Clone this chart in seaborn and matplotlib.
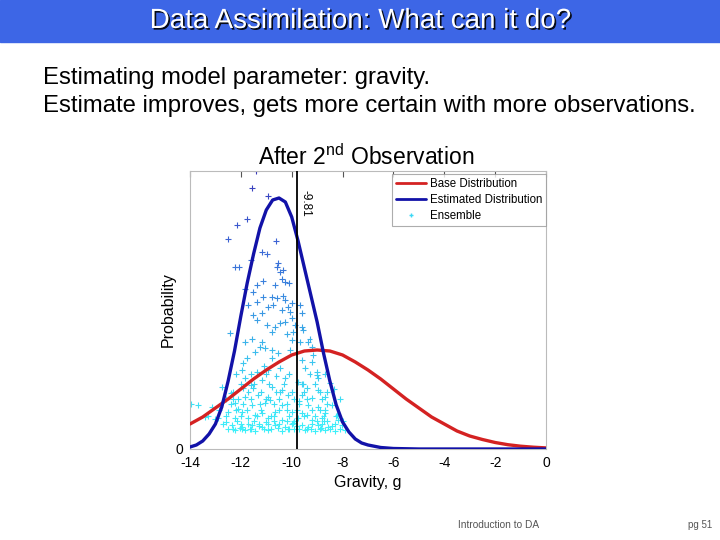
import numpy as np
import pandas as pd
import matplotlib
matplotlib.use('Agg')
import matplotlib.pyplot as plt
import matplotlib.patheffects as pe
from matplotlib.colors import LinearSegmentedColormap
from matplotlib.lines import Line2D
import seaborn as sns

sns.set_style('white')
plt.rcParams['font.family'] = ['Liberation Sans', 'DejaVu Sans']
plt.rcParams['mathtext.fontset'] = 'custom'
plt.rcParams['mathtext.rm'] = 'Liberation Sans'
plt.rcParams['axes.unicode_minus'] = False
plt.rcParams['text.color'] = 'black'
plt.rcParams['axes.labelcolor'] = 'black'
plt.rcParams['xtick.color'] = 'black'
plt.rcParams['ytick.color'] = 'black'

# curves (gravity, probability)
blue_g = [-14, -13.75, -13.5, -13.25, -13, -12.75, -12.5, -12.25, -12, -11.75, -11.5,
          -11.25, -11, -10.75, -10.5, -10.25, -10, -9.75, -9.5, -9.25, -9, -8.75, -8.5,
          -8.25, -8, -7.75, -7.5, -7.25, -7, -6.5, -6, -5, 0]
blue_p = [0.002, 0.004, 0.008, 0.015, 0.025, 0.042, 0.068, 0.098, 0.133, 0.166, 0.195,
          0.221, 0.239, 0.249, 0.251, 0.247, 0.232, 0.208, 0.181, 0.154, 0.127, 0.096, 0.068,
          0.044, 0.027, 0.017, 0.010, 0.006, 0.004, 0.0015, 0.0005, 0.0, 0.0]
red_g = [-14, -13.5, -13, -12.5, -12, -11.5, -11, -10.5, -10, -9.5, -9, -8.5, -8, -7.5, -7,
         -6.5, -6, -5.5, -5, -4.5, -4, -3.5, -3, -2.5, -2, -1.5, -1, -0.5, 0]
red_p = [0.025, 0.032, 0.041, 0.050, 0.060, 0.070, 0.079, 0.087, 0.094, 0.098, 0.099, 0.098,
         0.094, 0.087, 0.079, 0.070, 0.060, 0.050, 0.041, 0.032, 0.025, 0.018, 0.013, 0.0095,
         0.0065, 0.0043, 0.0028, 0.0018, 0.0011]

# ensemble members (estimated positions)
ens_g = [-11.40, -11.55, -10.92, -11.76, -12.14, -12.49, -10.61, -11.18, -10.96, -11.61, -10.53,
         -12.23, -12.07, -10.59, -10.46, -10.33, -11.12, -11.38, -10.66, -10.39, -10.26, -10.11,
         -11.84, -11.51, -11.12, -10.79, -10.59, -10.33, -10.26, -10.00, -11.71, -11.38, -10.92,
         -10.72, -10.13, -9.67, -9.61, -11.16, -10.39, -10.07, -11.51, -11.38, -10.00, -10.46,
         -10.98, -10.66, -10.26, -9.87, -9.61, -9.54, -12.43, -10.79, -10.20, -9.94, -11.57,
         -11.18, -11.84, -10.00, -9.67, -9.35, -11.05, -10.79, -11.44, -10.53, -9.21, -9.15,
         -11.25, -11.77, -10.79, -9.61, -9.21, -11.97, -11.38, -10.92, -10.46, -9.48, -9.02,
         -11.84, -11.18, -10.26, -9.74, -8.95, -8.49, -12.75, -11.90, -11.51, -10.79, -10.39,
         -9.41, -8.95, -11.84, -11.31, -10.92, -10.13, -9.61, -9.21, -8.69, -12.23, -13.67,
         -13.15, -11.57, -11.05, -10.39, -9.35, -8.95, -8.43, -12.49, -11.97, -11.18, -10.66,
         -10.00, -9.61, -8.69, -13.41, -12.89, -12.23, -11.71, -10.92, -10.39, -9.74, -9.21,
         -8.82, -8.17, -12.36, -11.97, -11.57, -11.18, -10.66, -10.26, -9.61, -9.35, -8.95,
         -8.56, -8.04, -12.23, -11.84, -11.44, -10.92, -10.39, -9.48, -9.08, -8.69, -8.30,
         -7.90, -12.05, -11.65, -11.30, -10.55, -10.15, -9.80, -9.25, -8.85, -8.40, -12.60,
         -11.00, -10.70, -9.95, -9.40, -8.75, -12.10, -11.45, -10.85, -10.20, -9.70, -8.90,
         -8.20, -12.40, -11.60, -10.60, -9.55, -8.60, -13.00, -12.30, -11.90, -11.10, -10.45,
         -10.05, -9.30, -9.00, -8.35, -8.10]
ens_p = [0.278, 0.261, 0.253, 0.230, 0.224, 0.210, 0.208, 0.197, 0.195, 0.189, 0.186,
         0.182, 0.182, 0.182, 0.177, 0.179, 0.168, 0.164, 0.164, 0.170, 0.167, 0.166,
         0.160, 0.157, 0.152, 0.152, 0.151, 0.153, 0.149, 0.146, 0.144, 0.147, 0.142,
         0.144, 0.142, 0.144, 0.136, 0.136, 0.139, 0.137, 0.134, 0.129, 0.131, 0.126,
         0.124, 0.122, 0.127, 0.124, 0.122, 0.119, 0.116, 0.117, 0.115, 0.117, 0.110,
         0.107, 0.107, 0.109, 0.107, 0.107, 0.101, 0.099, 0.097, 0.096, 0.102, 0.094,
         0.102, 0.091, 0.091, 0.089, 0.087, 0.079, 0.077, 0.079, 0.081, 0.081, 0.077,
         0.071, 0.069, 0.071, 0.067, 0.071, 0.066, 0.062, 0.061, 0.061, 0.062, 0.059,
         0.061, 0.059, 0.052, 0.054, 0.052, 0.054, 0.054, 0.051, 0.052, 0.046, 0.044,
         0.042, 0.044, 0.046, 0.044, 0.044, 0.042, 0.044, 0.037, 0.037, 0.036, 0.037,
         0.037, 0.036, 0.036, 0.032, 0.031, 0.031, 0.031, 0.031, 0.029, 0.031, 0.029,
         0.031, 0.029, 0.024, 0.022, 0.024, 0.022, 0.024, 0.022, 0.024, 0.022, 0.024,
         0.022, 0.024, 0.019, 0.019, 0.018, 0.019, 0.018, 0.019, 0.018, 0.019, 0.018,
         0.019, 0.021, 0.020, 0.023, 0.021, 0.020, 0.023, 0.020, 0.021, 0.023, 0.027,
         0.027, 0.033, 0.026, 0.034, 0.028, 0.040, 0.034, 0.049, 0.039, 0.048, 0.039,
         0.034, 0.056, 0.064, 0.073, 0.065, 0.057, 0.030, 0.050, 0.086, 0.083, 0.057,
         0.099, 0.110, 0.074, 0.060, 0.050]
# denser lower band of the ensemble
low_g = [-12.5, -12.3, -11.95, -11.6, -11.1, -10.8, -10.1, -9.9, -9.7, -9.4, -8.9, -8.5, -8.1,
         -12.7, -12.0, -11.7, -11.3, -10.95, -10.5, -10.0, -9.2, -8.8, -8.3,
         -12.15, -11.5, -10.7, -10.2, -9.9, -9.0, -8.6, -8.0,
         -13.3, -12.6, -12.0, -11.35, -10.8, -10.1, -9.5, -9.1, -8.75, -8.25,
         -12.85, -12.2, -11.75, -11.2, -10.5, -9.8, -9.2, -8.7,
         -13.95, -12.4, -11.9, -11.25, -10.7, -10.2, -9.7, -8.6,
         -12.6, -12.1, -11.6, -11.0, -10.5, -9.9, -9.4, -8.8,
         -12.3, -11.7, -11.2, -10.6, -10.0, -9.5, -8.9,
         -12.0, -11.5, -10.9, -10.3, -9.6, -9.1,
         -12.2, -11.6, -11.0, -10.1, -9.3, -8.7]
low_p = [0.020] * 13 + [0.025] * 10 + [0.028] * 8 + [0.033] * 10 + [0.039] * 8 + \
        [0.045] * 8 + [0.050] * 8 + [0.057] * 7 + [0.065] * 6 + [0.075] * 6

true_g = -9.81

curves = pd.DataFrame({'g': red_g + blue_g,
                       'p': red_p + blue_p,
                       'curve': ['Base Distribution'] * len(red_g) + ['Estimated Distribution'] * len(blue_g)})
ens = pd.DataFrame({'g': ens_g + low_g, 'p': ens_p + low_p})

fig = plt.figure(figsize=(7.2, 5.4), dpi=100)

# slide header
fig.patches.append(plt.Rectangle((0, 1 - 42 / 540), 1, 42 / 540, transform=fig.transFigure,
                                 color='#3d66e6', zorder=0))
fig.text(0.5, 1 - 21 / 540, 'Data Assimilation: What can it do?', ha='center', va='center',
         color='white', fontsize=20,
         path_effects=[pe.withSimplePatchShadow(offset=(1.2, -1.2), shadow_rgbFace='black', alpha=0.9)])
fig.text(43 / 720, 1 - 78 / 540, 'Estimating model parameter: gravity.', ha='left', va='center', fontsize=17.2)
fig.text(43 / 720, 1 - 106 / 540, 'Estimate improves, gets more certain with more observations.',
         ha='left', va='center', fontsize=17.2)
fig.text(366 / 720, 1 - 157 / 540, r'After 2$^{\rm nd}$ Observation', ha='center', va='center', fontsize=16.5)
fig.text(458 / 720, 1 - 525 / 540, 'Introduction to DA', ha='left', va='center', fontsize=7.3, color='#555555')
fig.text(712 / 720, 1 - 525 / 540, 'pg 51', ha='right', va='center', fontsize=7, color='#555555')

ax = fig.add_axes([190 / 720, 1 - 449 / 540, 356 / 720, 278 / 540])

cmap = LinearSegmentedColormap.from_list('ens', ['#3df0fa', '#3cc8f0', '#3a8ee0', '#3b5fd2', '#3838b8'])
sns.scatterplot(data=ens, x='g', y='p', hue='p', palette=cmap, marker='+', s=18,
                linewidth=0.8, legend=False, ax=ax, zorder=2)
sns.lineplot(data=curves, x='g', y='p', hue='curve',
             palette={'Base Distribution': '#d42222', 'Estimated Distribution': '#1212a8'},
             linewidth=2.4, legend=False, ax=ax, zorder=3, sort=False)
ax.axvline(true_g, color='black', linewidth=1.3, zorder=4)
ax.text(true_g + 0.12, 0.259, '-9.81', rotation=270, ha='left', va='top', fontsize=8.5)

ax.set_xlim(-14, 0)
ax.set_ylim(0, 0.278)
ax.set_xticks(np.arange(-14, 1, 2))
ax.set_yticks([0])
ax.set_yticklabels(['0'])
ax.tick_params(direction='in', length=4, labelsize=10, top=True, color='#555555', pad=5)
for s in ax.spines.values():
    s.set_color('#bbbbbb')
    s.set_linewidth(0.8)
ax.set_xlabel('Gravity, g', fontsize=11.5, labelpad=4)
ax.set_ylabel('Probability', fontsize=11.5, labelpad=0)

handles = [Line2D([], [], color='#d42222', lw=2),
           Line2D([], [], color='#1212a8', lw=2),
           Line2D([], [], color='#3dd8f5', marker='+', ls='none', markersize=3)]
leg = ax.legend(handles, ['Base Distribution', 'Estimated Distribution', 'Ensemble'],
                loc='upper right', bbox_to_anchor=(1.0, 0.99), fontsize=8.3, frameon=True,
                fancybox=False, handlelength=2.6, borderpad=0.35, labelspacing=0.35,
                handletextpad=0.3, borderaxespad=0.0)
leg.get_frame().set_edgecolor('#999999')
leg.get_frame().set_linewidth(0.8)

fig.savefig('out.png', dpi=100)
